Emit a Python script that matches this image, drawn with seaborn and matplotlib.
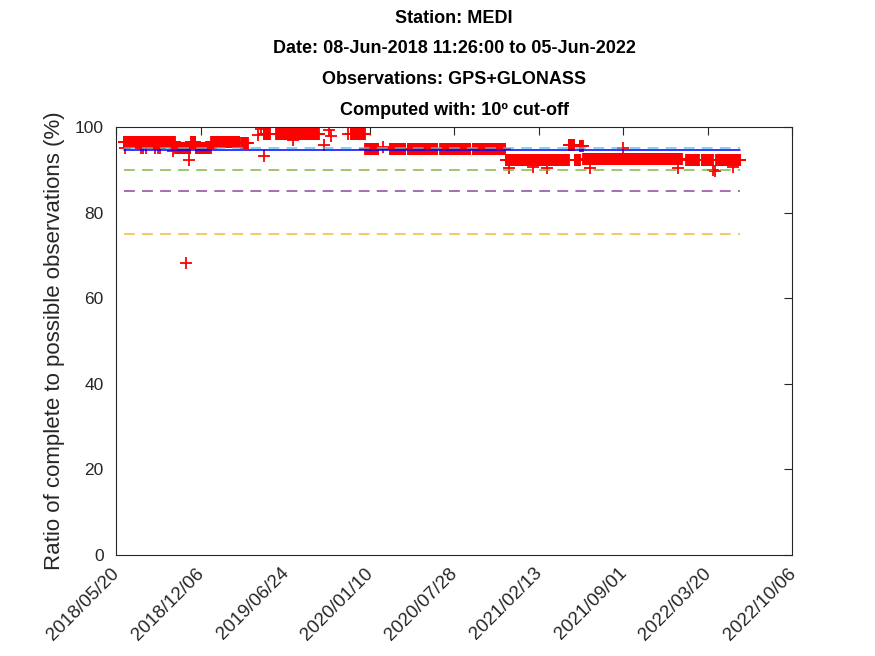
import numpy as np
import pandas as pd
import seaborn as sns
import matplotlib as mpl
import matplotlib.pyplot as plt
import matplotlib.dates as mdates
import matplotlib.transforms as mtransforms

# segments of (nearly) constant daily ratio
seg_start = ['2018-06-08', '2018-10-07', '2018-11-13', '2018-11-25', '2018-12-31',
             '2019-03-12', '2019-05-05', '2019-06-03', '2019-07-15', '2019-11-27',
             '2019-12-31', '2020-02-27', '2020-04-10', '2020-06-25', '2020-09-11',
             '2020-11-27', '2021-04-26', '2021-05-10', '2021-05-22', '2021-05-30',
             '2022-01-29', '2022-03-06', '2022-04-10']
seg_end   = ['2018-10-06', '2018-11-12', '2018-11-24', '2018-12-30', '2019-03-07',
             '2019-03-28', '2019-05-19', '2019-07-13', '2019-09-12', '2019-12-30',
             '2020-01-31', '2020-04-03', '2020-06-18', '2020-09-04', '2020-11-26',
             '2021-04-25', '2021-05-09', '2021-05-21', '2021-05-29', '2022-01-18',
             '2022-02-27', '2022-04-01', '2022-06-05']
seg_value = [96.5, 95.2, 96.5, 95.2, 96.5,
             96.3, 98.4, 98.4, 98.4, 98.4,
             94.9, 94.9, 94.9, 94.9, 94.9,
             92.4, 95.7, 92.4, 95.5, 92.5,
             92.2, 92.3, 92.3]

# single days that stand apart from the bands
extra_dates  = ['2018-06-10', '2018-07-17', '2018-07-22', '2018-07-31', '2018-08-21',
                '2018-08-28', '2018-09-02', '2018-10-01', '2018-11-02', '2018-11-09',
                '2019-04-20', '2019-04-28', '2019-05-05', '2019-07-14', '2019-09-25',
                '2019-10-05', '2019-10-10', '2019-11-20', '2020-02-10', '2020-12-05',
                '2021-01-30', '2021-03-05', '2021-06-15', '2021-09-01', '2022-01-10',
                '2022-04-02', '2022-04-07', '2022-05-20']
extra_values = [95.0, 95.0, 95.0, 95.0, 95.0,
                95.0, 95.0, 94.5, 68.2, 92.3,
                98.1, 99.5, 93.2, 97.0, 95.8,
                99.3, 98.0, 98.4, 95.3, 90.5,
                90.6, 90.4, 90.5, 95.2, 90.5,
                90.0, 89.8, 90.6]

thresholds = [95, 90, 85, 75]
thr_colors = ['#4DBEEE', '#77AC30', '#7E2F8E', '#EDB120']

title_lines = ['Station: MEDI',
               'Date: 08-Jun-2018 11:26:00 to 05-Jun-2022',
               'Observations: GPS+GLONASS',
               'Computed with: 10\u00ba cut-off']

if __name__ == "__main__":
    sns.set_style('white')
    plt.rcParams['font.family'] = ['Liberation Sans', 'DejaVu Sans']

    rows = []
    for s, e, v in zip(seg_start, seg_end, seg_value):
        for d in pd.date_range(s, e, freq='D'):
            rows.append((d, v))
    for d, v in zip(extra_dates, extra_values):
        rows.append((pd.Timestamp(d), v))
    df = pd.DataFrame(rows, columns=['date', 'ratio'])

    t0 = pd.Timestamp('2018-06-08 11:26')
    t1 = df.date.max()

    fig = plt.figure(figsize=(8.75, 6.56), dpi=100)
    ax = fig.add_axes([0.1326, 0.154, 0.7726, 0.6524])

    sns.scatterplot(data=df, x='date', y='ratio', marker='+', s=85,
                    color='red', linewidth=1.3, ax=ax, zorder=2)

    for thr, c in zip(thresholds, thr_colors):
        ax.plot([t0, t1], [thr, thr], '--', color=c, alpha=0.75, lw=1.3,
                dashes=(6, 4), zorder=3)
    ax.plot([t0, t1], [df.ratio.mean()] * 2, '-', color='blue', lw=1.1, zorder=4)

    xticks = pd.date_range('2018-05-20', periods=9, freq='200D')
    ax.set_xticks(xticks)
    ax.xaxis.set_major_formatter(mdates.DateFormatter('%Y/%m/%d'))
    ax.set_xlim(xticks[0], xticks[-1])
    ax.set_ylim(0, 100)
    ax.set_yticks(np.arange(0, 101, 20))

    ax.tick_params(direction='in', length=6, width=0.8, top=True, right=True,
                   colors='#262626', labelcolor='#262626')
    ax.tick_params(axis='y', labelsize=12.5, pad=9)
    ax.tick_params(axis='x', labelsize=13.5, pad=7)
    shift = mtransforms.ScaledTranslation(-5 / 100, 0, fig.dpi_scale_trans)
    for lab in ax.get_xticklabels():
        lab.set_rotation(45)
        lab.set_ha('right')
        lab.set_rotation_mode('anchor')
        lab.set_transform(lab.get_transform() + shift)
    for sp in ax.spines.values():
        sp.set_color('#262626')
        sp.set_linewidth(0.8)

    ax.set_xlabel('')
    ax.set_ylabel('Ratio of complete to possible observations (%)', fontsize=16,
                  color='#262626', labelpad=7)
    ax.set_title('\n'.join(title_lines), fontsize=13, fontweight='bold',
                 color='black', linespacing=2.05, pad=9)

    plt.savefig('out.png', dpi=100)
    plt.close()
